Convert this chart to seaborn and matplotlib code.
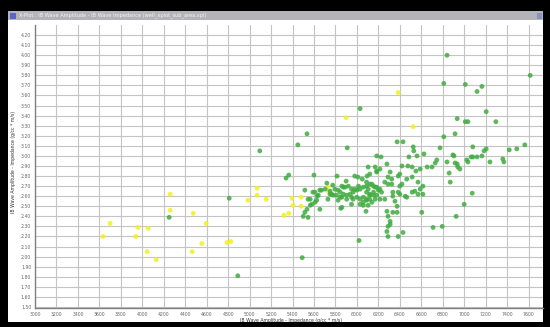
import numpy as np
import pandas as pd
import matplotlib
matplotlib.use("Agg")
import matplotlib.pyplot as plt
from matplotlib.patches import Rectangle
import seaborn as sns

# Yellow group (low impedance samples)
yellow_x = [3700, 3635, 3960, 3940, 4055, 4045, 4130, 4260, 4260, 4475,
            4595, 4465, 4555, 4790, 4825, 4985, 5070, 5070, 5155, 5320,
            5365, 5395, 5480, 5405, 5480, 5730, 5740, 5900, 6385, 6525]
yellow_y = [2.33, 2.20, 2.29, 2.20, 2.28, 2.05, 1.97, 2.62, 2.46, 2.43,
            2.33, 2.05, 2.13, 2.14, 2.15, 2.56, 2.68, 2.61, 2.57, 2.41,
            2.43, 2.58, 2.59, 2.51, 2.50, 2.69, 2.64, 3.38, 3.63, 3.29]

# Green group (main trend)
green_x = [6840, 7615, 6810, 7010, 7165, 7120, 6030, 7205, 6935, 7010,
           7035, 7295, 5535, 6915, 6810, 5450, 6375, 6430, 5910, 6525,
           6530, 7080, 6775, 7205, 7185, 7420, 7490, 7565, 5095, 6185,
           6225, 6485, 6560, 6625, 6895, 6905, 7065, 7080, 7025, 7035,
           7120, 7165, 7240, 7360, 7370, 6745, 6730, 6840, 6915, 6935,
           6960, 6860, 6105, 6170, 6185, 6215, 6280, 6420, 6475, 6515,
           6550, 6590, 6655, 6700, 6940, 5365, 5340, 5600, 5815, 5980,
           6010, 6050, 6095, 6120, 6185, 6290, 6325, 6385, 6465, 6515,
           6310, 6400, 6870, 6570, 6260, 6290, 6325, 6420, 6400, 6615,
           6590, 6540, 6515, 6615, 6335, 6385, 6260, 6355, 6450, 6465,
           6570, 6215, 6400, 6335, 6375, 7075, 7000, 6925, 6605, 6280,
           6335, 6375, 6290, 6310, 6310, 6290, 6280, 6430, 6385, 6290,
           6710, 6795, 6020, 6085, 5850, 5655, 5490, 4890, 4810, 4250,
           5590, 5630, 5545, 5580, 5535, 5500, 5545, 5730, 5750, 5860,
           5860, 5890, 5920, 5950, 5845, 5875, 5905, 5935, 5965, 6000,
           6030, 6060, 6090, 6120, 6155, 6185, 6090, 6120, 6155, 6060,
           6030, 6090, 6060, 6120, 6215, 6230, 6185, 6000, 5965, 5905,
           5860, 5810, 5780, 5750, 5825, 6105, 6060, 6030, 5950,
           5515, 5610, 5640, 5670, 5705, 5795, 5825, 5875, 5980, 6015,
           5950, 5845, 5765, 5625, 5565, 5655, 5610, 5565, 5515,
           6090, 6140, 6170, 6105, 6155, 6200, 6120, 6090, 6170, 6140,
           5720, 5775, 5900]
green_y = [4.00, 3.80, 3.72, 3.71, 3.69, 3.64, 3.47, 3.44, 3.37, 3.34,
           3.34, 3.34, 3.22, 3.22, 3.19, 3.11, 3.14, 3.14, 3.08, 3.09,
           3.05, 3.09, 3.08, 3.07, 3.05, 3.06, 3.07, 3.11, 3.05, 3.00,
           2.99, 2.99, 3.00, 3.02, 3.01, 3.00, 2.99, 2.99, 2.96, 2.94,
           2.99, 3.00, 2.94, 2.97, 2.94, 2.96, 2.93, 2.94, 2.93, 2.92,
           2.87, 2.83, 2.89, 2.89, 2.85, 2.87, 2.92, 2.90, 2.90, 2.89,
           2.85, 2.87, 2.89, 2.89, 2.89, 2.81, 2.78, 2.81, 2.80, 2.80,
           2.79, 2.77, 2.80, 2.82, 2.84, 2.79, 2.77, 2.80, 2.77, 2.79,
           2.84, 2.82, 2.74, 2.74, 2.74, 2.72, 2.72, 2.72, 2.70, 2.70,
           2.67, 2.65, 2.64, 2.62, 2.64, 2.64, 2.57, 2.55, 2.60, 2.59,
           2.62, 2.57, 2.62, 2.60, 2.50, 2.63, 2.52, 2.40, 2.44, 2.45,
           2.44, 2.44, 2.40, 2.35, 2.32, 2.30, 2.25, 2.24, 2.20, 2.20,
           2.29, 2.30, 2.16, 2.45, 2.48, 2.47, 1.99, 1.81, 2.58, 2.39,
           2.64, 2.60, 2.57, 2.52, 2.47, 2.40, 2.39, 2.57, 2.65, 2.49,
           2.70, 2.69, 2.70, 2.67, 2.64, 2.62, 2.61, 2.62, 2.64, 2.66,
           2.67, 2.69, 2.70, 2.72, 2.70, 2.69, 2.64, 2.62, 2.61, 2.59,
           2.57, 2.56, 2.54, 2.57, 2.67, 2.64, 2.61, 2.59, 2.57, 2.57,
           2.59, 2.61, 2.61, 2.62, 2.56, 2.51, 2.51, 2.52, 2.52,
           2.66, 2.64, 2.61, 2.66, 2.67, 2.67, 2.66, 2.69, 2.67, 2.70,
           2.59, 2.59, 2.62, 2.56, 2.57, 2.66, 2.54, 2.51, 2.44,
           2.74, 2.72, 2.69, 2.67, 2.64, 2.66, 2.61, 2.57, 2.57, 2.54,
           2.73, 2.71, 2.75]

x_ticks = np.arange(3000, 7601, 200)
y_ticks = np.round(np.arange(1.50, 4.201, 0.10), 2)

df = pd.concat([
    pd.DataFrame({"amp": yellow_x, "imp": yellow_y, "group": "low"}),
    pd.DataFrame({"amp": green_x, "imp": green_y, "group": "trend"}),
], ignore_index=True)

sns.set_style("whitegrid")
plt.rcParams["font.family"] = ["DejaVu Sans"]

W, H = 550, 327
fig = plt.figure(figsize=(W / 100, H / 100), dpi=100, facecolor="black")

# window panel and title bar
fig.patches.append(Rectangle((8 / W, 5 / H), 535 / W, 302 / H,
                             transform=fig.transFigure, facecolor="white",
                             edgecolor="none", zorder=-2))
fig.patches.append(Rectangle((8 / W, 307 / H), 535 / W, 9 / H,
                             transform=fig.transFigure, facecolor="#b4b4b8",
                             edgecolor="none", zorder=-2))
fig.patches.append(Rectangle((10 / W, 308.5 / H), 6 / W, 6 / H,
                             transform=fig.transFigure, facecolor="#5a64c8",
                             edgecolor="none", zorder=-1))
fig.patches.append(Rectangle((537 / W, 308.5 / H), 5 / W, 6 / H,
                             transform=fig.transFigure, facecolor="#8a90c8",
                             edgecolor="none", zorder=-1))
fig.text(19 / W, 311.5 / H,
         "X-Plot : IB Wave Amplitude - IB Wave Impedance (well_xplot_sub_area.xpl)",
         fontsize=3.6, color="#f4f4f4", va="center", ha="left")

ax = fig.add_axes([35 / W, 19 / H, 508 / W, 283 / H])
ax.set_zorder(5)
ax.set_facecolor("white")

sns.scatterplot(data=df, x="amp", y="imp", hue="group",
                palette={"low": "#f4f01c", "trend": "#40ac40"},
                hue_order=["trend", "low"],
                s=12, linewidth=0, alpha=0.85, legend=False, ax=ax, zorder=3)

ax.set_xlim(3000, 3000 + 508 * 9.32)
ax.set_ylim(1.49, 4.30)
ax.set_xticks(x_ticks)
ax.set_yticks(y_ticks)
ax.set_xticklabels([f"{v:d}" for v in x_ticks])
ax.set_yticklabels([f"{v:.2f}" for v in y_ticks])
ax.tick_params(axis="both", labelsize=3.3, colors="#666666", length=1.5,
               width=0.5, pad=1.2)
ax.grid(True, color="#c4c4c4", linewidth=0.8)
for side in ("top", "right"):
    ax.spines[side].set_visible(False)
for side in ("left", "bottom"):
    ax.spines[side].set_color("#808080")
    ax.spines[side].set_linewidth(1.0)
ax.set_xlabel("")
ax.set_ylabel("")

fig.text(291 / W, 6.8 / H, "IB Wave Amplitude - Impedance (g/cc * m/s)",
         fontsize=3.3, color="#333333", ha="center", va="center")
fig.text(14 / W, 165 / H, "IB Wave Amplitude - Impedance (g/cc * m/s)",
         fontsize=3.3, color="#333333", ha="center", va="center",
         rotation=90)

fig.savefig("out.png", dpi=100, facecolor="black")
